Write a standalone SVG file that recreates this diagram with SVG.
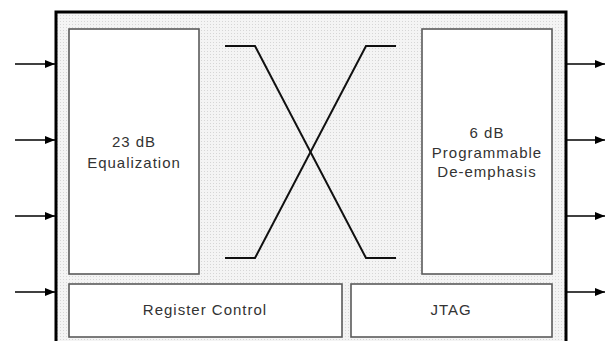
<svg xmlns="http://www.w3.org/2000/svg" width="609" height="341" viewBox="0 0 609 341">
<defs>
<pattern id="dots" width="3" height="3" patternUnits="userSpaceOnUse">
<rect width="3" height="3" fill="#f4f4f4"/>
<rect width="1" height="1" fill="#d6d6d6"/>
</pattern>
<marker id="ah" markerWidth="10" markerHeight="8" refX="10" refY="4" orient="auto" markerUnits="userSpaceOnUse">
<path d="M0,0 L10,4 L0,8 Z" fill="#000"/>
</marker>
<style>
.box{fill:#fff;stroke:#5a5a5a;stroke-width:1.6}
.t{font-family:"Liberation Sans",Arial,sans-serif;font-size:15px;letter-spacing:1px;fill:#333;text-anchor:middle}
.arr{stroke:#000;stroke-width:1.6;fill:none;marker-end:url(#ah)}
.x{stroke:#111;stroke-width:2;fill:none}
</style>
</defs>
<rect width="609" height="341" fill="#fff"/>
<g id="chip">
<rect x="56" y="12" width="510" height="340" fill="url(#dots)" stroke="#000" stroke-width="3"/>
</g>
<g id="equalization">
<rect class="box" x="69" y="29" width="130" height="245"/>
<text class="t" x="134" y="147">23 dB</text>
<text class="t" x="134" y="168">Equalization</text>
</g>
<g id="deemphasis">
<rect class="box" x="422" y="29" width="130" height="245"/>
<text class="t" x="487" y="138">6 dB</text>
<text class="t" x="487" y="158">Programmable</text>
<text class="t" x="487" y="177">De-emphasis</text>
</g>
<g id="register">
<rect class="box" x="69" y="284" width="273" height="53"/>
<text class="t" x="205" y="315">Register Control</text>
</g>
<g id="jtag">
<rect class="box" x="351" y="284" width="201" height="53"/>
<text class="t" x="451" y="315">JTAG</text>
</g>
<g id="connectors">
<path class="x" d="M225,46 H255 L366,258 H396"/>
<path class="x" d="M225,258 H255 L366,46 H396"/>
<line class="arr" x1="15" y1="64" x2="55" y2="64"/>
<line class="arr" x1="15" y1="140" x2="55" y2="140"/>
<line class="arr" x1="15" y1="216" x2="55" y2="216"/>
<line class="arr" x1="15" y1="292" x2="55" y2="292"/>
<line class="arr" x1="567" y1="64" x2="605" y2="64"/>
<line class="arr" x1="567" y1="140" x2="605" y2="140"/>
<line class="arr" x1="567" y1="216" x2="605" y2="216"/>
<line class="arr" x1="567" y1="292" x2="605" y2="292"/>
</g>
</svg>
